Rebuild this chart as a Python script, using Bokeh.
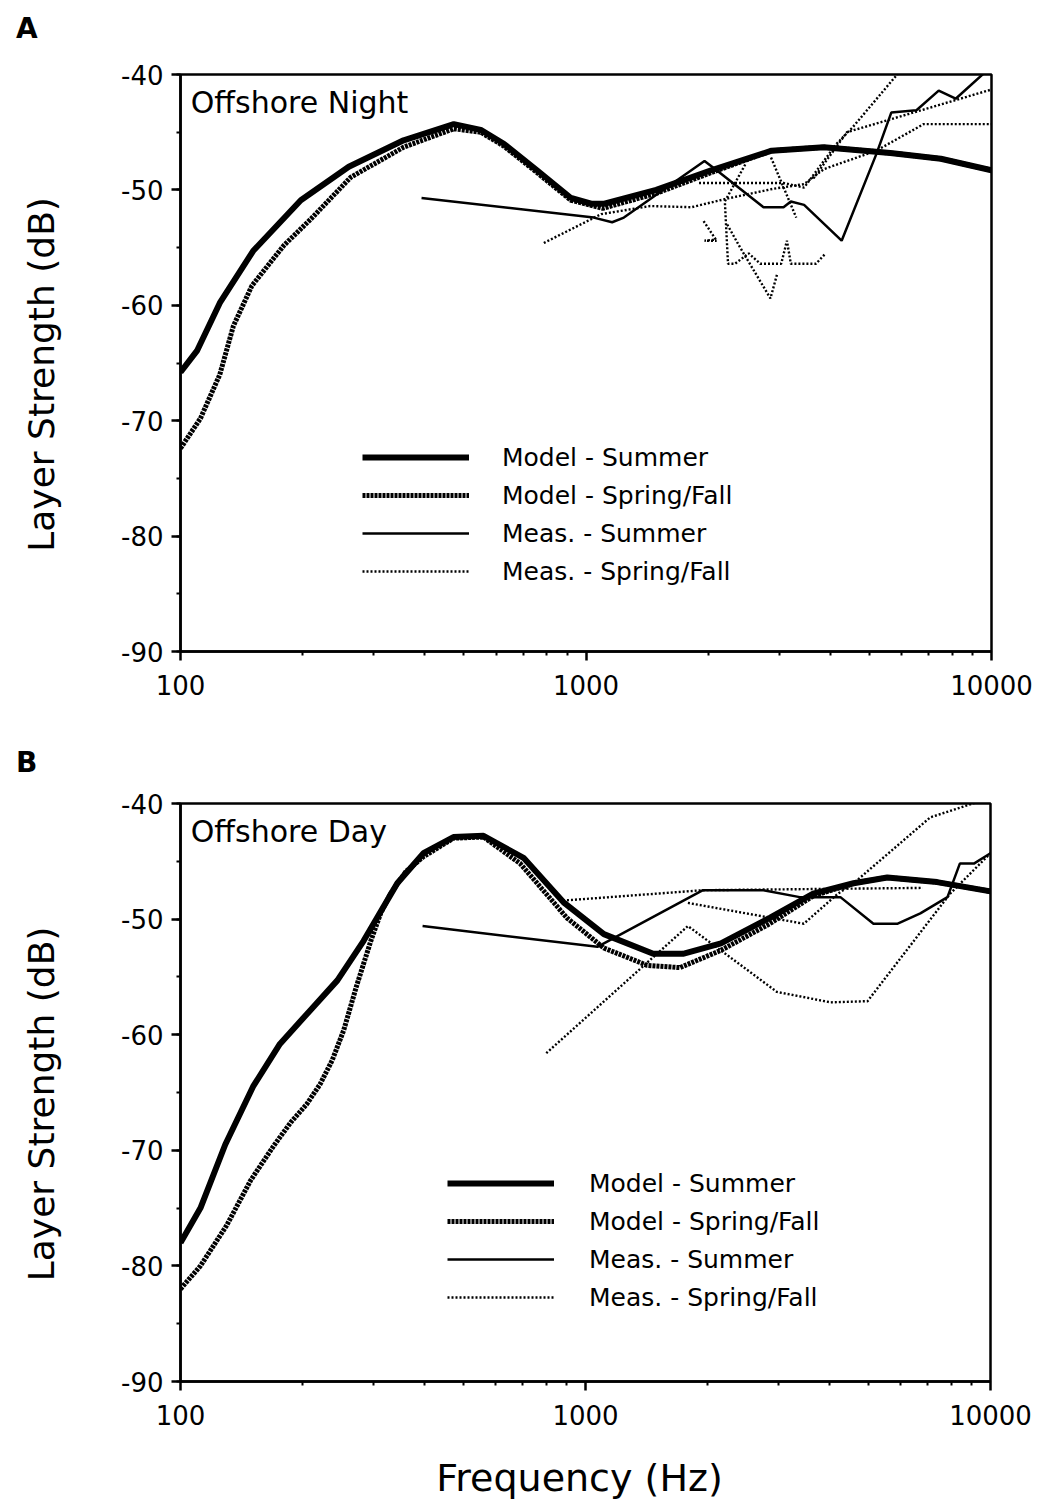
from bokeh.plotting import figure
from bokeh.models import (FixedTicker, PrintfTickFormatter, Legend, LegendItem, Label,
                          Range1d, SingleIntervalTicker, Div)
from bokeh.layouts import column
from bokeh.embed import file_html
from bokeh.resources import INLINE

FONT = "DejaVu Sans"

# ---------------- Panel A : Offshore Night ----------------
a_model_summer_f = [100, 110, 125, 151, 198, 260, 355, 472, 550, 627, 757, 918, 1030, 1110, 1490, 2036, 2870, 3860, 5630, 7500, 10000]
a_model_summer_db = [-65.8, -63.9, -59.8, -55.3, -50.9, -48.0, -45.7, -44.3, -44.8, -46.0, -48.3, -50.7, -51.2, -51.2, -50.0, -48.3, -46.6, -46.3, -46.8, -47.3, -48.3]

a_model_sf_f = [100, 112, 125, 135, 150, 180, 210, 263, 355, 472, 550, 627, 757, 918, 1100, 1490, 2036, 2870, 3860, 5630, 7500, 10000]
a_model_sf_db = [-72.4, -69.8, -66.0, -61.8, -58.3, -54.8, -52.5, -48.9, -46.3, -44.7, -45.0, -46.2, -48.5, -50.9, -51.6, -50.3, -48.5, -46.6, -46.3, -46.8, -47.3, -48.3]

a_meas_summer_f = [393, 1045, 1160, 1240, 1960, 2100, 2740, 3070, 3200, 3450, 4270, 5200, 5660, 6530, 7410, 8160, 10000]
a_meas_summer_db = [-50.7, -52.4, -52.8, -52.4, -47.5, -48.3, -51.5, -51.5, -51.0, -51.3, -54.4, -46.9, -43.3, -43.1, -41.4, -42.1, -39.3]

a_meas_sf = [
    ([787, 1090, 1440, 1820, 2200, 2900, 3450, 3860, 5200, 6800, 10000],
     [-54.6, -52.1, -51.4, -51.5, -50.8, -49.9, -49.5, -48.2, -46.6, -44.3, -44.3]),
    ([1900, 3070, 3450, 4150, 4540, 5950],
     [-49.4, -49.4, -49.8, -46.0, -44.6, -39.7]),
    ([3640, 4400, 10000],
     [-49.0, -45.0, -41.3]),
    ([1950, 2090, 1960, 2100],
     [-52.7, -54.3, -54.4, -54.4]),
    ([2470, 2200, 2240, 2330, 2520, 2690, 3030, 3130, 3200, 3690, 3900],
     [-47.8, -51.0, -56.4, -56.4, -55.5, -56.4, -56.4, -54.4, -56.4, -56.4, -55.5]),
    ([2230, 2400, 2850, 2960],
     [-53.0, -55.0, -59.4, -57.3]),
    ([2860, 3300],
     [-47.2, -52.4]),
]

# ---------------- Panel B : Offshore Day ----------------
b_model_summer_f = [100, 112, 129, 151, 176, 209, 244, 283, 343, 398, 472, 560, 703, 886, 1110, 1470, 1740, 2160, 2850, 3650, 4590, 5560, 7380, 10000]
b_model_summer_db = [-78.0, -75.0, -69.5, -64.5, -60.8, -57.9, -55.3, -51.9, -46.9, -44.3, -42.9, -42.8, -44.7, -48.6, -51.3, -53.0, -53.0, -52.1, -49.9, -47.8, -46.9, -46.4, -46.8, -47.6]

b_model_sf_f = [100, 112, 130, 149, 170, 187, 205, 221, 237, 253, 272, 295, 312, 330, 360, 398, 472, 560, 690, 900, 1110, 1420, 1710, 2160, 2850, 3650, 4590, 5560, 7380, 10000]
b_model_sf_db = [-82.0, -80.0, -76.5, -72.6, -69.6, -67.6, -66.0, -64.3, -62.2, -59.6, -55.8, -51.9, -49.5, -47.8, -45.9, -44.6, -43.0, -42.9, -45.2, -49.9, -52.5, -54.0, -54.2, -52.7, -50.4, -48.0, -46.9, -46.4, -46.8, -47.6]

b_meas_summer_f = [396, 1070, 1950, 2750, 3380, 4260, 5140, 5900, 6710, 7830, 8400, 9100, 10000]
b_meas_summer_db = [-50.6, -52.4, -47.5, -47.5, -48.1, -48.1, -50.4, -50.4, -49.5, -48.1, -45.2, -45.2, -44.3]

b_meas_sf = [
    ([800, 1790, 2970, 4030, 4970, 7950, 10000],
     [-61.6, -50.6, -56.3, -57.2, -57.1, -47.8, -44.3]),
    ([880, 1950, 6800],
     [-48.4, -47.5, -47.3]),
    ([1790, 3460, 4200, 4590, 7100, 10000],
     [-48.6, -50.4, -47.8, -46.9, -41.2, -39.5]),
]

legend_labels = ["Model - Summer", "Model - Spring/Fall", "Meas. - Summer", "Meas. - Spring/Fall"]
x_major = [100, 1000, 10000]
x_minor = [200, 300, 400, 500, 600, 700, 800, 900, 2000, 3000, 4000, 5000, 6000, 7000, 8000, 9000]


def make_panel(border_left, border_right, border_top, border_bottom, fw, fh,
               ms, msf, meas_s, meas_sf, title, legend_loc, legend_standoff, xlabel):
    p = figure(frame_width=fw, frame_height=fh, x_axis_type="log",
               x_range=Range1d(100, 10000), y_range=Range1d(-90, -40),
               output_backend="svg", toolbar_location=None,
               min_border_left=border_left, min_border_right=border_right,
               min_border_top=border_top, min_border_bottom=border_bottom)
    p.background_fill_color = "white"
    p.border_fill_color = "white"
    p.outline_line_color = "black"
    p.outline_line_width = 2.5
    p.xgrid.visible = False
    p.ygrid.visible = False

    p.xaxis.ticker = FixedTicker(ticks=x_major, minor_ticks=x_minor)
    p.xaxis.formatter = PrintfTickFormatter(format="%d")
    p.yaxis.ticker = SingleIntervalTicker(interval=10, num_minor_ticks=2)
    p.yaxis.formatter = PrintfTickFormatter(format="%d")
    for ax in (p.xaxis[0], p.yaxis[0]):
        ax.axis_line_width = 2.5
        ax.axis_line_color = "black"
        ax.major_tick_line_width = 2.5
        ax.minor_tick_line_width = 2
        ax.major_tick_out = 9
        ax.major_tick_in = 0
        ax.minor_tick_out = 4
        ax.minor_tick_in = 0
        ax.major_label_text_font = FONT
        ax.major_label_text_font_size = "26px"
        ax.major_label_text_color = "black"
        ax.axis_label_text_font = FONT
        ax.axis_label_text_font_style = "normal"
        ax.axis_label_text_color = "black"
    p.yaxis.major_label_standoff = 8
    p.xaxis.major_label_standoff = 14
    p.yaxis.axis_label = "Layer  Strength  (dB)"
    p.yaxis.axis_label_text_font_size = "36px"
    p.yaxis.axis_label_standoff = 56
    if xlabel:
        p.xaxis.axis_label = xlabel
        p.xaxis.axis_label_text_font_size = "38px"
        p.xaxis.axis_label_standoff = 28

    r_ms = p.line(ms[0], ms[1], line_color="black", line_width=6)
    r_msf = p.line(msf[0], msf[1], line_color="black", line_width=5, line_dash="3 1")
    r_meas = p.line(meas_s[0], meas_s[1], line_color="black", line_width=2.5)
    r_sf = None
    for fx, dy in meas_sf:
        r = p.line(fx, dy, line_color="black", line_width=2.4, line_dash="2 2")
        if r_sf is None:
            r_sf = r

    legend = Legend(items=[LegendItem(label=legend_labels[0], renderers=[r_ms]),
                           LegendItem(label=legend_labels[1], renderers=[r_msf]),
                           LegendItem(label=legend_labels[2], renderers=[r_meas]),
                           LegendItem(label=legend_labels[3], renderers=[r_sf])],
                    location=legend_loc)
    legend.background_fill_alpha = 0
    legend.border_line_alpha = 0
    legend.padding = 0
    legend.margin = 0
    legend.glyph_width = 107
    legend.glyph_height = 30
    legend.label_height = 30
    legend.spacing = 8
    legend.label_standoff = legend_standoff
    legend.label_text_font = FONT
    legend.label_text_font_size = "25px"
    legend.label_text_color = "black"
    p.add_layout(legend)

    p.add_layout(Label(x=106, y=-40.9, text=title, text_font=FONT, text_font_size="30px",
                       text_baseline="top", text_color="black"))
    return p


def letter_div(letter, pad_top, height):
    return Div(text=letter, width=1047, height=height, margin=0,
               styles={"font-family": FONT, "font-size": "28px", "font-weight": "bold",
                       "padding-left": "16px", "padding-top": f"{pad_top}px",
                       "line-height": "normal", "color": "black",
                       "box-sizing": "border-box"})


pa = make_panel(177, 59, 22, 79, 811, 577,
                (a_model_summer_f, a_model_summer_db), (a_model_sf_f, a_model_sf_db),
                (a_meas_summer_f, a_meas_summer_db), a_meas_sf,
                "Offshore  Night", (182, 65), 33, None)
pb = make_panel(180, 57, 21, 129, 810, 578,
                (b_model_summer_f, b_model_summer_db), (b_model_sf_f, b_model_sf_db),
                (b_meas_summer_f, b_meas_summer_db), b_meas_sf,
                "Offshore  Day", (267, 69), 35, "Frequency  (Hz)")

layout = column(letter_div("A", 12, 52), pa, letter_div("B", 16, 52), pb, spacing=0)
open("out.html", "w").write(file_html(layout, INLINE))
